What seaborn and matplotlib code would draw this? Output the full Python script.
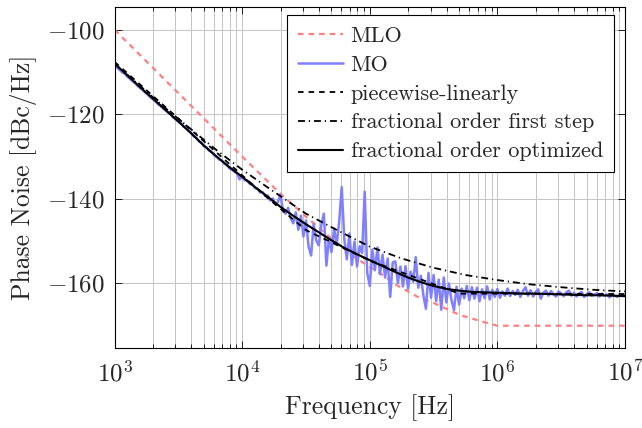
import numpy as np
import seaborn as sns
import matplotlib.pyplot as plt
from matplotlib.ticker import LogLocator, MultipleLocator, NullFormatter

# --- data (x values are log10 of frequency in Hz, y values in dBc/Hz) ---
mlo_logf = [3.0, 3.5, 4.0, 4.3, 4.5, 4.7, 4.9, 5.1, 5.2, 5.4, 5.5, 5.7, 5.9, 6.0, 7.0]
mlo_db = [-100.0, -115.0, -130.0, -138.8, -144.2, -149.4, -154.2, -158.0, -160.2,
          -163.6, -164.6, -167.4, -169.2, -170.0, -170.0]

# measured MO, sampled every 0.02 decade from 1e3 to 1e7
mo_logf = np.round(np.linspace(3.0, 7.0, 201), 2)
mo_db = [
    -108.6, -109.0, -109.5, -110.1, -110.4, -111.1, -111.6, -112.2, -112.6, -113.3,
    -113.8, -114.2, -114.9, -115.3, -116.0, -116.4, -116.9, -117.6, -118.0, -118.6,
    -119.1, -119.6, -120.0, -120.8, -121.2, -121.8, -122.1, -122.9, -123.3, -123.9,
    -124.4, -125.2, -125.5, -126.4, -126.7, -127.6, -127.8, -128.6, -128.9, -129.7,
    -130.1, -130.7, -130.9, -131.7, -132.0, -132.8, -133.1, -133.6, -134.0, -135.4,
    -134.6, -135.6, -135.6, -136.5, -136.6, -137.5, -137.6, -138.5, -138.4, -139.3,
    -139.2, -140.4, -139.9, -141.3, -140.7, -139.0, -142.9, -143.5, -142.1, -144.6,
    -145.8, -143.2, -147.3, -144.0, -148.9, -145.1, -151.2, -153.4, -146.0, -149.8,
    -151.0, -146.2, -143.5, -155.8, -149.3, -152.6, -147.0, -150.8, -145.5, -137.2,
    -149.5, -154.3, -148.2, -155.6, -150.1, -156.0, -151.2, -152.8, -138.3, -157.5,
    -160.6, -152.0, -156.9, -151.5, -157.8, -153.2, -158.6, -154.1, -163.2, -155.0,
    -154.8, -159.9, -156.0, -160.7, -155.9, -161.3, -157.2, -159.6, -153.8, -161.0,
    -158.2, -162.8, -166.0, -157.5, -163.4, -158.0, -164.2, -159.1, -166.2, -158.6,
    -164.5, -160.0, -163.9, -166.3, -160.8, -165.0, -161.2, -163.5, -160.6, -164.0,
    -160.9, -163.6, -161.0, -164.2, -161.4, -163.5, -160.7, -163.8, -161.5, -163.2,
    -161.3, -163.4, -161.9, -162.9, -161.2, -163.0, -161.8, -162.7, -161.5, -163.2,
    -161.8, -160.9, -162.9, -161.6, -163.1, -162.0, -161.4, -163.6, -162.2, -161.7,
    -162.9, -161.8, -162.6, -163.1, -161.9, -162.4, -163.0, -162.1, -161.7, -162.9,
    -162.2, -163.1, -162.4, -162.0, -163.2, -162.5, -162.1, -162.9, -162.6, -162.3,
    -163.1, -162.4, -162.9, -162.6, -163.3, -162.5, -162.9, -163.2, -162.6, -163.0,
    -162.9,
]

pwl_logf = [3.0, 4.2, 4.5, 5.0, 5.7, 7.0]
pwl_db = [-107.6, -139.8, -147.4, -154.6, -162.4, -162.5]

first_logf = [3.0, 3.4, 3.8, 4.0, 4.2, 4.5, 4.75, 5.0, 5.25, 5.5, 5.75, 6.0, 6.25, 6.5, 6.75, 7.0]
first_db = [-108.0, -118.6, -128.5, -133.1, -137.3, -143.5, -147.5, -151.3, -154.1,
            -156.3, -158.0, -159.2, -160.2, -160.9, -161.5, -161.9]

opt_logf = np.round(np.linspace(3.0, 7.0, 41), 2)
opt_db = [-108.0, -110.8, -113.6, -116.3, -119.0, -121.7, -124.5, -127.4, -130.0, -132.5,
          -134.8, -137.2, -139.5, -141.9, -144.0, -146.0, -147.9, -149.8, -151.6, -153.1,
          -154.5, -155.9, -157.3, -158.6, -159.7, -160.6, -161.3, -161.7, -162.0, -162.1,
          -162.2, -162.3, -162.4, -162.4, -162.5, -162.6, -162.7, -162.8, -162.8, -162.9,
          -163.0]

# --- style ---
sns.set_theme(style="ticks")
plt.rcParams["font.family"] = ["cmr10", "DejaVu Serif"]
plt.rcParams["mathtext.fontset"] = "cm"
plt.rcParams["axes.formatter.use_mathtext"] = True
plt.rcParams["axes.unicode_minus"] = True
plt.rcParams["lines.scale_dashes"] = False

fig = plt.figure(figsize=(6.42, 4.28), dpi=100)
ax = fig.add_axes([0.1785, 0.1876, 0.795, 0.7953])

sns.lineplot(x=10 ** np.array(mlo_logf), y=mlo_db, ax=ax, color="#ff8080",
             lw=1.6, linestyle=(0, (4.0, 3.6)), label="MLO")
sns.lineplot(x=10 ** mo_logf, y=mo_db, ax=ax, color="#8080ff",
             lw=1.8, label="MO")
sns.lineplot(x=10 ** np.array(pwl_logf), y=pwl_db, ax=ax, color="black",
             lw=1.3, linestyle=(0, (4.0, 3.6)), label="piecewise-linearly")
sns.lineplot(x=10 ** np.array(first_logf), y=first_db, ax=ax, color="black",
             lw=1.3, linestyle=(0, (5.0, 2.8, 0.9, 2.8)),
             label="fractional order first step")
sns.lineplot(x=10 ** opt_logf, y=opt_db, ax=ax, color="black",
             lw=1.5, label="fractional order optimized")

ax.set_xscale("log")
ax.set_xlim(1e3, 1e7)
ax.set_ylim(-175.2, -94.7)
ax.xaxis.set_major_locator(LogLocator(base=10, numticks=10))
ax.xaxis.set_minor_locator(LogLocator(base=10, subs=np.arange(2, 10), numticks=100))
ax.xaxis.set_minor_formatter(NullFormatter())
ax.yaxis.set_major_locator(MultipleLocator(20))

ax.set_axisbelow(True)
ax.grid(which="major", color="#c4c4c4", lw=0.7)
ax.grid(which="minor", axis="x", color="#c4c4c4", lw=0.7)

for side in ax.spines.values():
    side.set_color("black")
    side.set_linewidth(0.8)

ax.tick_params(which="both", direction="in", top=True, right=True,
               color="black", width=0.6)
ax.tick_params(which="major", length=5, labelsize=18)
ax.tick_params(axis="x", which="major", pad=9)
ax.tick_params(axis="y", which="major", pad=7)
ax.tick_params(which="minor", length=3)

ax.set_xlabel("Frequency [Hz]", fontsize=18.5, labelpad=6)
ax.set_ylabel("Phase Noise [dBc/Hz]", fontsize=18.5, labelpad=7)

leg = ax.legend(loc="upper right", bbox_to_anchor=(0.9785, 0.977), borderaxespad=0,
                fontsize=16, frameon=True, fancybox=False, edgecolor="black",
                framealpha=1, handlelength=2.0, handletextpad=0.35,
                labelspacing=0.42, borderpad=0.5)
leg.get_frame().set_linewidth(0.8)

plt.savefig("out.png", dpi=100)
plt.close()
